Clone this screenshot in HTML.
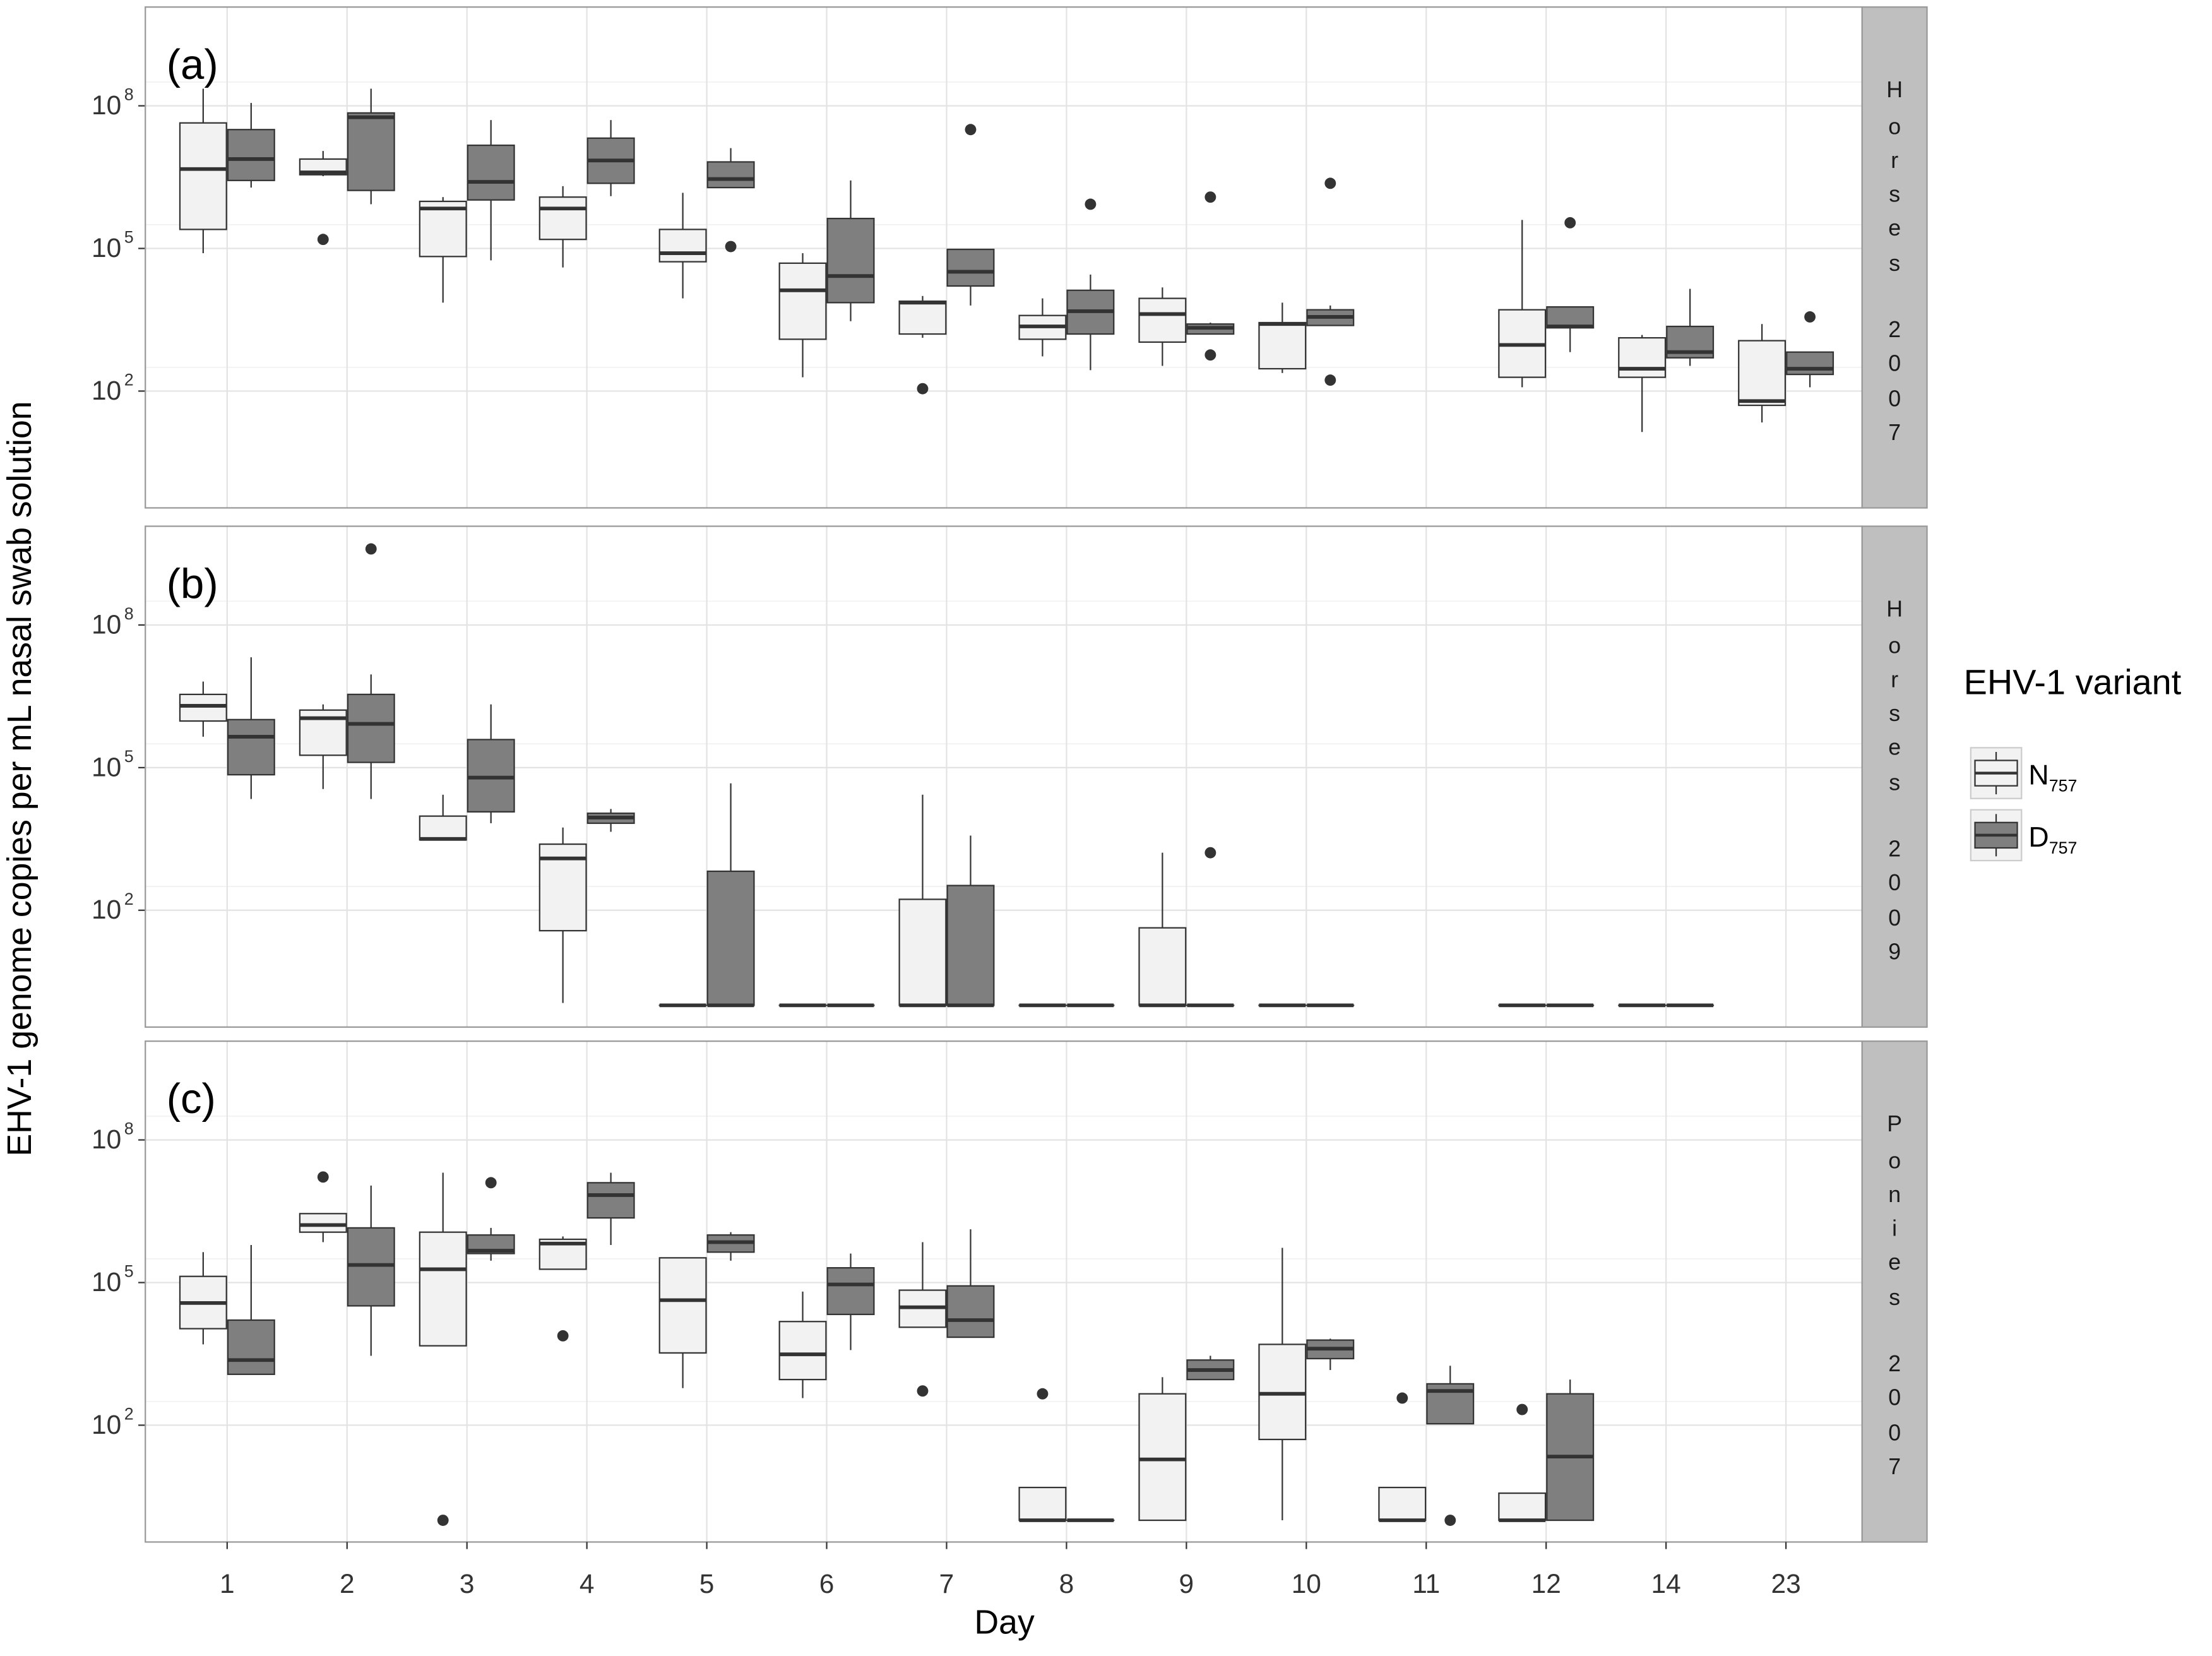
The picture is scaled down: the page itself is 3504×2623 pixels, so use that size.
<!DOCTYPE html>
<html><head><meta charset="utf-8"><style>
html,body{margin:0;padding:0;background:#fff}
svg{display:block;font-family:"Liberation Sans",sans-serif}
</style></head><body>
<svg id="chart" width="3504" height="2623" viewBox="0 0 1568 1173.8" xmlns="http://www.w3.org/2000/svg"></svg>
<script>
// categories
const days = ["1","2","3","4","5","6","7","8","9","10","11","12","14","23"];
const panelIds = ["a","b","c"];
const stripLabels = [["H","o","r","s","e","s","","2","0","0","7"],["H","o","r","s","e","s","","2","0","0","9"],["P","o","n","i","e","s","","2","0","0","7"]];
const yTickVals = [2,5,8];
const yTickLabels = ["10","10","10"];
const yTickExps = ["2","5","8"];
// stats in log10 copies: [day, low, q1, median, q3, high, outliers]
const panelA_N = [["1",4.9,5.4,6.67,7.64,8.36,[]],["2",6.52,6.55,6.6,6.88,7.05,[5.19]],["3",3.86,4.83,5.84,5.99,6.08,[]],["4",4.6,5.19,5.84,6.08,6.31,[]],["5",3.95,4.72,4.9,5.4,6.17,[]],["6",2.29,3.09,4.12,4.69,4.9,[]],["7",3.12,3.2,3.86,3.89,4.0,[2.05]],["8",2.73,3.09,3.36,3.59,3.95,[]],["9",2.53,3.03,3.62,3.95,4.18,[]],["10",2.38,2.47,3.41,3.44,3.86,[]],["12",2.08,2.29,2.97,3.71,5.6,[]],["14",1.14,2.29,2.47,3.12,3.18,[]],["23",1.34,1.7,1.79,3.06,3.41,[]]];
const panelA_D = [["1",6.28,6.43,6.88,7.5,8.06,[]],["2",5.93,6.22,7.76,7.85,8.36,[]],["3",4.75,6.02,6.4,7.17,7.7,[]],["4",6.1,6.37,6.85,7.32,7.7,[]],["5",6.28,6.28,6.46,6.82,7.11,[5.04]],["6",3.47,3.86,4.42,5.63,6.43,[]],["7",3.8,4.21,4.51,4.98,4.98,[7.5]],["8",2.44,3.2,3.68,4.12,4.45,[5.93]],["9",3.2,3.2,3.33,3.41,3.44,[6.08,2.76]],["10",3.38,3.38,3.56,3.71,3.8,[6.37,2.23]],["12",2.82,3.33,3.36,3.77,3.77,[5.54]],["14",2.53,2.7,2.82,3.36,4.15,[]],["23",2.08,2.35,2.47,2.82,2.82,[3.56]]];
const panelB_N = [["1",5.65,5.98,6.3,6.54,6.81,[]],["2",4.55,5.26,6.04,6.21,6.33,[]],["3",3.48,3.48,3.5,3.98,4.43,[]],["4",0.05,1.57,3.09,3.39,3.74,[]],["5",0,0,0,0,0,[]],["6",0,0,0,0,0,[]],["7",0,0,0,2.23,4.43,[]],["8",0,0,0,0,0,[]],["9",0,0,0,1.63,3.21,[]],["10",0,0,0,0,0,[]],["12",0,0,0,0,0,[]],["14",0,0,0,0,0,[]]];
const panelB_D = [["1",4.34,4.85,5.65,6.01,7.32,[]],["2",4.34,5.11,5.92,6.54,6.96,[9.6]],["3",3.83,4.07,4.79,5.59,6.33,[]],["4",3.65,3.83,3.95,4.04,4.13,[]],["5",0,0,0,2.82,4.67,[]],["6",0,0,0,0,0,[]],["7",0,0,0,2.52,3.57,[]],["8",0,0,0,0,0,[]],["9",0,0,0,0,0,[3.21]],["10",0,0,0,0,0,[]],["12",0,0,0,0,0,[]],["14",0,0,0,0,0,[]]];
const panelC_N = [["1",3.7,4.03,4.57,5.13,5.64,[]],["2",5.85,6.06,6.21,6.45,6.45,[7.22]],["3",3.67,3.67,5.28,6.06,7.31,[0]],["4",5.28,5.28,5.82,5.91,5.97,[3.88]],["5",2.78,3.52,4.63,5.52,5.52,[]],["6",2.57,2.96,3.49,4.18,4.81,[]],["7",4.06,4.06,4.48,4.84,5.85,[2.72]],["8",0,0,0,0.69,0.69,[2.66]],["9",0,0,1.28,2.66,3.01,[]],["10",0,1.7,2.66,3.7,5.73,[]],["11",0,0,0,0.69,0.69,[2.57]],["12",0,0,0,0.57,0.57,[2.33]]];
const panelC_D = [["1",3.07,3.07,3.37,4.21,5.79,[]],["2",3.46,4.51,5.37,6.15,7.04,[]],["3",5.46,5.61,5.67,6.0,6.15,[7.1]],["4",5.79,6.36,6.84,7.1,7.31,[]],["5",5.46,5.64,5.85,6.0,6.06,[]],["6",3.58,4.33,4.96,5.31,5.61,[]],["7",3.85,3.85,4.21,4.93,6.12,[]],["8",0,0,0,0,0,[]],["9",2.96,2.96,3.16,3.37,3.46,[]],["10",3.16,3.4,3.61,3.79,3.82,[]],["11",2.03,2.03,2.72,2.87,3.25,[0]],["12",0,0,1.34,2.66,2.96,[]]];
const panelsN = [panelA_N, panelB_N, panelC_N];
const panelsD = [panelA_D, panelB_D, panelC_D];

const NS="http://www.w3.org/2000/svg";
const svg=document.getElementById('chart');
function mk(tag,attrs,parent){const e=document.createElementNS(NS,tag);for(const k in attrs)e.setAttribute(k,attrs[k]);(parent||svg).appendChild(e);return e;}
const L=103,R=1320,panelTops=[5,373,738],PH=355;
function xScale(d){return 161+days.indexOf(d)*85;}
function yScale(p,v){return panelTops[p]+70+(8-v)*33.7;}

panelTops.forEach((top,p)=>{
  const g=mk('g',{});
  
  
  mk('rect',{x:L,y:top,width:R-L,height:PH,fill:'#fff'},g);
  for(let v=-0.5;v<=10;v+=3){const y=yScale(p,v);if(y>top&&y<top+PH)mk('line',{x1:L,x2:R,y1:y,y2:y,stroke:'#f2f2f2','stroke-width':0.8},g);}
  yTickVals.forEach((v,i)=>{const y=yScale(p,v);
    mk('line',{x1:L,x2:R,y1:y,y2:y,stroke:'#e3e3e3','stroke-width':1},g);
    mk('line',{x1:L-5,x2:L,y1:y,y2:y,stroke:'#333','stroke-width':1},g);
    const t=mk('text',{x:L-17,y:y+6,'text-anchor':'end','font-size':19,fill:'#333'},g);
    
    
    t.textContent=yTickLabels[i];
    const s=mk('text',{x:L-15,y:y-4,'font-size':12,fill:'#333'},g);s.textContent=yTickExps[i];
  });
  days.forEach(d=>{const x=xScale(d);mk('line',{x1:x,x2:x,y1:top,y2:top+PH,stroke:'#e3e3e3','stroke-width':1},g);});
  [[panelsN[p],-17,'#f2f2f2','box-n757'],[panelsD[p],17,'#7f7f7f','box-d757']].forEach(([arr,off,fill,nm])=>{
    arr.forEach(r=>{const cx=xScale(r[0])+off,w=33;
      const bg=mk('g',{},g);
      
      
      mk('line',{x1:cx,x2:cx,y1:yScale(p,r[5]),y2:yScale(p,r[4]),stroke:'#333','stroke-width':1},bg);
      mk('line',{x1:cx,x2:cx,y1:yScale(p,r[2]),y2:yScale(p,r[1]),stroke:'#333','stroke-width':1},bg);
      const y3=yScale(p,r[4]),y1=yScale(p,r[2]);
      mk('rect',{x:cx-w/2,y:y3,width:w,height:Math.max(0.01,y1-y3),fill:fill,stroke:'#333','stroke-width':1},bg);
      const ym=yScale(p,r[3]);
      mk('line',{x1:cx-w/2,x2:cx+w/2,y1:ym,y2:ym,stroke:'#333','stroke-width':2.6},bg);
      r[6].forEach(o=>{const c=mk('circle',{cx:cx,cy:yScale(p,o),r:4,fill:'#333'},bg);
        
        });
    });
  });
  mk('rect',{x:L,y:top,width:R-L,height:PH,fill:'none',stroke:'#999','stroke-width':1},g);
  const lab=mk('text',{x:118,y:top+51,'font-size':30,fill:'#000'},g);
  
  
  lab.textContent='('+panelIds[p]+')';
  const sg=mk('g',{},g);
  
  
  mk('rect',{x:R,y:top,width:46,height:PH,fill:'#bfbfbf',stroke:'#999','stroke-width':1},sg);
  const sy=[57,83,107,131,155,180,0,227,251,276,300];
  stripLabels[p].forEach((ch,i)=>{if(!ch)return;const t=mk('text',{x:1343,y:top+sy[i]+7,'text-anchor':'middle','font-size':16,fill:'#1a1a1a'},sg);t.textContent=ch;});
});
days.forEach(d=>{const x=xScale(d);
  mk('line',{x1:x,x2:x,y1:1093,y2:1098,stroke:'#333','stroke-width':1});
  const t=mk('text',{x:x,y:1129,'text-anchor':'middle','font-size':19,fill:'#333'});
  
  
  t.textContent=d;});
</script>
<svg style="position:absolute;left:0;top:0" width="3504" height="2623" viewBox="0 0 1568 1173.8" xmlns="http://www.w3.org/2000/svg" font-family="Liberation Sans, sans-serif">
<text x="712" y="1158" text-anchor="middle" font-size="24" fill="#000">Day</text>
<text transform="translate(22,552) rotate(-90)" text-anchor="middle" font-size="24" fill="#000">EHV-1 genome copies per mL nasal swab solution</text>
<g>
<text x="1392" y="492" font-size="25" fill="#000">EHV-1 variant</text>
<g>
<rect x="1397" y="530" width="36" height="36" fill="#f2f2f2" stroke="#ccc"/>
<line x1="1415" x2="1415" y1="533" y2="563" stroke="#333"/>
<rect x="1400" y="539" width="30" height="18" fill="#f2f2f2" stroke="#333"/>
<line x1="1400" x2="1430" y1="548" y2="548" stroke="#333" stroke-width="2"/>
<text x="1438" y="556" font-size="20">N<tspan font-size="12" dy="5">757</tspan></text></g>
<g>
<rect x="1397" y="574" width="36" height="36" fill="#f2f2f2" stroke="#ccc"/>
<line x1="1415" x2="1415" y1="577" y2="607" stroke="#333"/>
<rect x="1400" y="583" width="30" height="18" fill="#7f7f7f" stroke="#333"/>
<line x1="1400" x2="1430" y1="592" y2="592" stroke="#333" stroke-width="2"/>
<text x="1438" y="600" font-size="20">D<tspan font-size="12" dy="5">757</tspan></text></g>
</g>
</svg>
</body></html>
